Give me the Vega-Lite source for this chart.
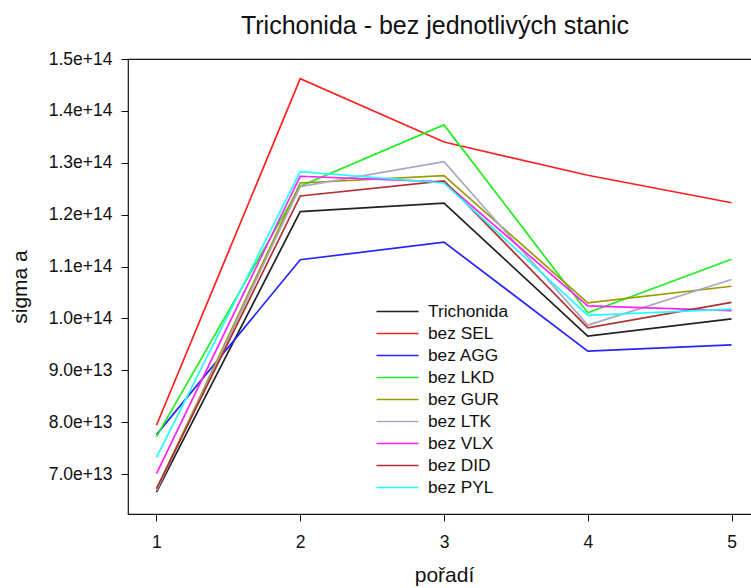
{
  "$schema": "https://vega.github.io/schema/vega-lite/v6.json",
  "autosize": "none",
  "padding": {"left": 128, "top": 59, "right": 0, "bottom": 74},
  "width": 632,
  "height": 455,
  "background": "white",
  "config": {
    "font": "Liberation Sans",
    "view": {"stroke": "#111", "strokeWidth": 1.2}
  },
  "title": {
    "text": "Trichonida - bez jednotlivých stanic",
    "fontSize": 25,
    "fontWeight": "normal",
    "color": "#111",
    "anchor": "middle",
    "frame": "group",
    "baseline": "alphabetic",
    "offset": -9,
    "dx": -9
  },
  "data": {
    "values": [
      {"serie": "Trichonida", "poradi": 1, "sigma": 6.65e13},
      {"serie": "Trichonida", "poradi": 2, "sigma": 1.206e14},
      {"serie": "Trichonida", "poradi": 3, "sigma": 1.222e14},
      {"serie": "Trichonida", "poradi": 4, "sigma": 0.966e14},
      {"serie": "Trichonida", "poradi": 5, "sigma": 0.999e14},
      {"serie": "bez SEL", "poradi": 1, "sigma": 7.94e13},
      {"serie": "bez SEL", "poradi": 2, "sigma": 1.462e14},
      {"serie": "bez SEL", "poradi": 3, "sigma": 1.340e14},
      {"serie": "bez SEL", "poradi": 4, "sigma": 1.276e14},
      {"serie": "bez SEL", "poradi": 5, "sigma": 1.223e14},
      {"serie": "bez AGG", "poradi": 1, "sigma": 7.76e13},
      {"serie": "bez AGG", "poradi": 2, "sigma": 1.113e14},
      {"serie": "bez AGG", "poradi": 3, "sigma": 1.147e14},
      {"serie": "bez AGG", "poradi": 4, "sigma": 0.937e14},
      {"serie": "bez AGG", "poradi": 5, "sigma": 0.949e14},
      {"serie": "bez LKD", "poradi": 1, "sigma": 7.72e13},
      {"serie": "bez LKD", "poradi": 2, "sigma": 1.255e14},
      {"serie": "bez LKD", "poradi": 3, "sigma": 1.373e14},
      {"serie": "bez LKD", "poradi": 4, "sigma": 1.011e14},
      {"serie": "bez LKD", "poradi": 5, "sigma": 1.114e14},
      {"serie": "bez GUR", "poradi": 1, "sigma": 6.70e13},
      {"serie": "bez GUR", "poradi": 2, "sigma": 1.261e14},
      {"serie": "bez GUR", "poradi": 3, "sigma": 1.275e14},
      {"serie": "bez GUR", "poradi": 4, "sigma": 1.030e14},
      {"serie": "bez GUR", "poradi": 5, "sigma": 1.062e14},
      {"serie": "bez LTK", "poradi": 1, "sigma": 6.68e13},
      {"serie": "bez LTK", "poradi": 2, "sigma": 1.254e14},
      {"serie": "bez LTK", "poradi": 3, "sigma": 1.302e14},
      {"serie": "bez LTK", "poradi": 4, "sigma": 0.987e14},
      {"serie": "bez LTK", "poradi": 5, "sigma": 1.075e14},
      {"serie": "bez VLX", "poradi": 1, "sigma": 7.01e13},
      {"serie": "bez VLX", "poradi": 2, "sigma": 1.274e14},
      {"serie": "bez VLX", "poradi": 3, "sigma": 1.263e14},
      {"serie": "bez VLX", "poradi": 4, "sigma": 1.024e14},
      {"serie": "bez VLX", "poradi": 5, "sigma": 1.015e14},
      {"serie": "bez DID", "poradi": 1, "sigma": 6.72e13},
      {"serie": "bez DID", "poradi": 2, "sigma": 1.236e14},
      {"serie": "bez DID", "poradi": 3, "sigma": 1.265e14},
      {"serie": "bez DID", "poradi": 4, "sigma": 0.982e14},
      {"serie": "bez DID", "poradi": 5, "sigma": 1.031e14},
      {"serie": "bez PYL", "poradi": 1, "sigma": 7.32e13},
      {"serie": "bez PYL", "poradi": 2, "sigma": 1.283e14},
      {"serie": "bez PYL", "poradi": 3, "sigma": 1.261e14},
      {"serie": "bez PYL", "poradi": 4, "sigma": 1.006e14},
      {"serie": "bez PYL", "poradi": 5, "sigma": 1.018e14}
    ]
  },
  "mark": {"type": "line", "strokeWidth": 1.7, "clip": true},
  "encoding": {
    "x": {
      "field": "poradi",
      "type": "quantitative",
      "scale": {"domain": [0.802, 5.198], "nice": false, "zero": false},
      "axis": {
        "title": "pořadí",
        "values": [1, 2, 3, 4, 5],
        "format": "d",
        "grid": false,
        "domain": false,
        "tickColor": "#111",
        "tickSize": 7,
        "labelFontSize": 17.5,
        "labelColor": "#111",
        "labelPadding": 12,
        "titleFontSize": 21,
        "titleFontWeight": "normal",
        "titleColor": "#111",
        "titlePadding": 14
      }
    },
    "y": {
      "field": "sigma",
      "type": "quantitative",
      "scale": {"domain": [6.23e13, 1.5e14], "nice": false, "zero": false},
      "axis": {
        "title": "sigma a",
        "values": [7e13, 8e13, 9e13, 1e14, 1.1e14, 1.2e14, 1.3e14, 1.4e14, 1.5e14],
        "format": ".1e",
        "grid": false,
        "domain": false,
        "tickColor": "#111",
        "tickSize": 7,
        "labelFontSize": 17.5,
        "labelColor": "#111",
        "labelPadding": 9,
        "titleFontSize": 21,
        "titleFontWeight": "normal",
        "titleColor": "#111",
        "titlePadding": 18
      }
    },
    "color": {
      "field": "serie",
      "type": "nominal",
      "sort": ["Trichonida", "bez SEL", "bez AGG", "bez LKD", "bez GUR", "bez LTK", "bez VLX", "bez DID", "bez PYL"],
      "scale": {
        "domain": ["Trichonida", "bez SEL", "bez AGG", "bez LKD", "bez GUR", "bez LTK", "bez VLX", "bez DID", "bez PYL"],
        "range": ["#222222", "#ff2020", "#2525ff", "#22ee22", "#9a9a00", "#a8a8c4", "#ff22ff", "#b03030", "#22ffff"]
      },
      "legend": {
        "title": null,
        "orient": "none",
        "legendX": 258,
        "legendY": 241,
        "symbolType": "M-2,0H2",
        "symbolSize": 441,
        "symbolStrokeWidth": 1.7,
        "labelFontSize": 17.3,
        "labelColor": "#111",
        "labelOffset": 19,
        "rowPadding": 2,
        "labelLimit": 300
      }
    },
    "order": {"field": "poradi"}
  }
}
